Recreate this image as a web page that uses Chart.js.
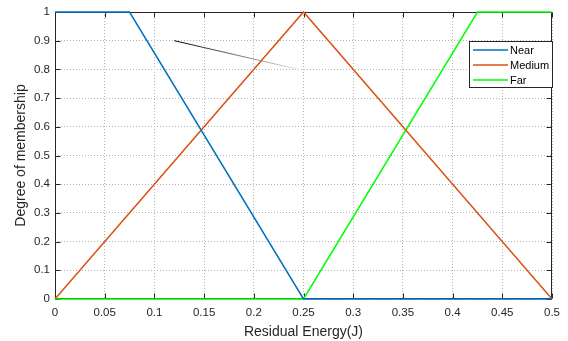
<!DOCTYPE html>
<html>
<head>
<meta charset="utf-8">
<script src="https://cdn.jsdelivr.net/npm/chart.js@4.4.1/dist/chart.umd.min.js"></script>
<style>
  html, body { margin: 0; padding: 0; background: #fff; }
  #wrap { width: 568px; height: 341px; }
</style>
</head>
<body>
<div id="wrap"><canvas id="fuzzyChart" width="568" height="341"></canvas></div>
<script>
// membership functions (x = residual energy, y = degree)
const nearX = [0, 0.075, 0.25, 0.5];
const nearY = [1, 1, 0, 0];
const mediumX = [0, 0.25, 0.5];
const mediumY = [0, 1, 0];
const farX = [0, 0.25, 0.425, 0.5];
const farY = [0, 0, 1, 1];
// the little pointer line in the top left
const pointerX = [0.12, 0.245];
const pointerY = [0.9, 0.8];

const seriesNames = ['Near', 'Medium', 'Far'];
const seriesColors = ['#0072BD', '#D95319', '#00FF00'];

const xTickStep = 0.05;
const yTickStep = 0.1;

const FONT = '"Liberation Sans", Arial, sans-serif';
const AXIS_COLOR = '#262626';

const toPoints = (xs, ys) => xs.map((x, i) => ({x: x, y: ys[i]}));

//box around the plot + inward tick marks (matlab look), drawn under the lines
//legend box drawn on top of everything
const matlabBox = {
    id: 'matlabBox',
    beforeDatasetsDraw(chart) {
        const c = chart.ctx;
        const a = chart.chartArea;
        const xs = chart.scales.x, ys = chart.scales.y;
        const L = Math.round(a.left) + 0.5, R = Math.round(a.right) - 0.5;
        const T = Math.round(a.top) + 0.5, B = Math.round(a.bottom) - 0.5;
        c.save();
        c.strokeStyle = AXIS_COLOR;
        c.lineWidth = 1;
        c.beginPath();
        c.rect(L, T, R - L, B - T);
        const tick = 5;
        xs.ticks.forEach(t => {
            const px = Math.round(xs.getPixelForValue(t.value)) + 0.5;
            c.moveTo(px, B); c.lineTo(px, B - tick);
            c.moveTo(px, T); c.lineTo(px, T + tick);
        });
        ys.ticks.forEach(t => {
            const py = Math.round(ys.getPixelForValue(t.value)) + 0.5;
            c.moveTo(L, py); c.lineTo(L + tick, py);
            c.moveTo(R, py); c.lineTo(R - tick, py);
        });
        c.stroke();
        c.restore();
    },
    afterDraw(chart) {
        const c = chart.ctx;
        c.save();
        const bx = 469.5, by = 41.5, bw = 83, bh = 46;
        c.fillStyle = '#fff';
        c.fillRect(bx, by, bw, bh);
        c.strokeStyle = AXIS_COLOR;
        c.lineWidth = 1;
        c.strokeRect(bx, by, bw, bh);
        c.font = '11px ' + FONT;
        c.textBaseline = 'middle';
        c.textAlign = 'left';
        seriesNames.forEach((name, i) => {
            const y = 50 + i * 15;
            c.strokeStyle = seriesColors[i];
            c.lineWidth = 1.5;
            c.beginPath();
            c.moveTo(473, y); c.lineTo(508, y);
            c.stroke();
            c.fillStyle = '#000';
            c.fillText(name, 510, y + 0.5);
        });
        c.restore();
    }
};

const pointerColor = (ctx) => {
    const chart = ctx.chart;
    if (!chart.chartArea) return '#000';
    const xs = chart.scales.x, ys = chart.scales.y;
    const g = chart.ctx.createLinearGradient(
        xs.getPixelForValue(pointerX[0]), ys.getPixelForValue(pointerY[0]),
        xs.getPixelForValue(pointerX[1]), ys.getPixelForValue(pointerY[1]));
    g.addColorStop(0, '#000');
    g.addColorStop(1, '#e6e6e6');
    return g;
};

const lineStyle = {showLine: true, pointRadius: 0, borderWidth: 1.5, tension: 0, fill: false, clip: false};

const fuzzyChart = new Chart(document.getElementById('fuzzyChart'), {
    type: 'scatter',
    data: {
        datasets: [
            {label: seriesNames[0], data: toPoints(nearX, nearY), borderColor: seriesColors[0], ...lineStyle},
            {label: seriesNames[1], data: toPoints(mediumX, mediumY), borderColor: seriesColors[1], ...lineStyle},
            {label: seriesNames[2], data: toPoints(farX, farY), borderColor: seriesColors[2], ...lineStyle},
            {label: 'pointer', data: toPoints(pointerX, pointerY), borderColor: pointerColor, ...lineStyle, borderWidth: 1}
        ]
    },
    options: {
        responsive: false,
        animation: false,
        layout: {padding: {top: 12, right: 16, left: 0, bottom: 0}},
        plugins: {
            legend: {display: false},
            tooltip: {enabled: false}
        },
        scales: {
            x: {
                type: 'linear',
                min: 0, max: 0.5,
                afterFit: s => { s.height = 42; },
                grid: {color: '#b4b4b4', drawTicks: false, tickLength: 0},
                border: {display: false, dash: [1, 2]},
                ticks: {
                    stepSize: xTickStep,
                    color: AXIS_COLOR,
                    padding: 7,
                    maxRotation: 0,
                    font: {family: FONT, size: 11.5},
                    callback: v => String(Number(v.toFixed(2)))
                },
                title: {
                    display: true,
                    text: 'Residual Energy(J)',
                    color: AXIS_COLOR,
                    font: {family: FONT, size: 14},
                    padding: {top: 0, bottom: 0}
                }
            },
            y: {
                min: 0, max: 1,
                afterFit: s => { s.width = 55; },
                grid: {color: '#b4b4b4', drawTicks: false, tickLength: 0},
                border: {display: false, dash: [1, 2]},
                ticks: {
                    stepSize: yTickStep,
                    color: AXIS_COLOR,
                    padding: 5,
                    font: {family: FONT, size: 11.5},
                    callback: v => String(Number(v.toFixed(1)))
                },
                title: {
                    display: true,
                    text: 'Degree of membership',
                    color: AXIS_COLOR,
                    font: {family: FONT, size: 14},
                    padding: {top: 13, bottom: 0}
                }
            }
        }
    },
    plugins: [matlabBox]
});
</script>
</body>
</html>
